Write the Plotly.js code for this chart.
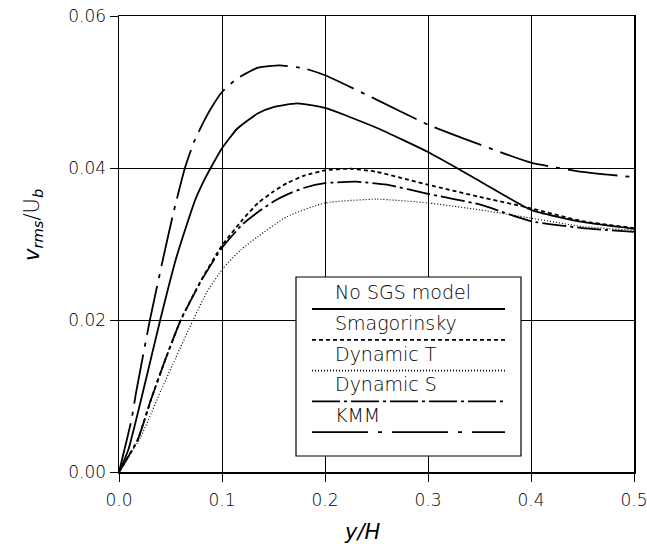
<!DOCTYPE html>
<html>
<head>
<meta charset="utf-8">
<script src="https://cdn.plot.ly/plotly-3.0.1.min.js"></script>
<style>html,body{margin:0;padding:0;background:#fff;}#chart{width:647px;height:546px;}</style>
</head>
<body>
<div id="chart"></div>
<script>
// ---- data ----
const seriesNames = ["No SGS model", "Smagorinsky", "Dynamic T", "Dynamic S", "KMM"];

const noSgsX = [0, 0.009, 0.023, 0.04, 0.055, 0.065, 0.074, 0.082, 0.089, 0.1, 0.115, 0.135, 0.15, 0.173, 0.2, 0.25, 0.3, 0.35, 0.4, 0.45, 0.5];
const noSgsY = [0, 0.0029, 0.0104, 0.02, 0.0279, 0.0322, 0.0358, 0.0382, 0.0400, 0.0426, 0.0452, 0.0472, 0.0480, 0.0485, 0.0479, 0.0453, 0.0421, 0.0383, 0.0345, 0.0329, 0.0320];

const smagX = [0, 0.018, 0.031, 0.045, 0.060, 0.08, 0.1, 0.12, 0.135, 0.15, 0.163, 0.18, 0.2, 0.225, 0.25, 0.3, 0.35, 0.4, 0.45, 0.5];
const smagY = [0, 0.0042, 0.0095, 0.0148, 0.02, 0.0253, 0.0298, 0.0332, 0.0354, 0.0369, 0.0380, 0.0390, 0.0397, 0.0399, 0.0395, 0.0378, 0.0362, 0.0347, 0.0330, 0.0321];

const dynTX = [0, 0.021, 0.041, 0.055, 0.072, 0.085, 0.101, 0.118, 0.135, 0.163, 0.2, 0.25, 0.3, 0.35, 0.4, 0.45, 0.5];
const dynTY = [0, 0.0046, 0.0108, 0.0150, 0.02, 0.0236, 0.0268, 0.0292, 0.0310, 0.0336, 0.0354, 0.0359, 0.0354, 0.0345, 0.0334, 0.0323, 0.0318];

const dynSX = [0, 0.018, 0.031, 0.045, 0.060, 0.08, 0.1, 0.12, 0.135, 0.15, 0.163, 0.18, 0.2, 0.23, 0.26, 0.3, 0.35, 0.4, 0.45, 0.5];
const dynSY = [0, 0.0042, 0.0095, 0.0148, 0.02, 0.0252, 0.0295, 0.0326, 0.0342, 0.0356, 0.0365, 0.0374, 0.0380, 0.0382, 0.0378, 0.0366, 0.0352, 0.0330, 0.0321, 0.0316];

const kmmX = [0, 0.012, 0.0165, 0.03, 0.043, 0.053, 0.064, 0.073, 0.083, 0.09, 0.1, 0.115, 0.135, 0.156, 0.18, 0.2, 0.25, 0.3, 0.35, 0.4, 0.45, 0.5];
const kmmY = [0, 0.0068, 0.0104, 0.02, 0.0282, 0.0342, 0.0400, 0.0435, 0.0463, 0.0480, 0.0500, 0.0518, 0.0532, 0.0535, 0.0531, 0.0522, 0.0490, 0.0457, 0.0431, 0.0407, 0.0395, 0.0388];

const xTicks = [0, 0.1, 0.2, 0.3, 0.4, 0.5];
const yTicks = [0, 0.02, 0.04, 0.06];

// ---- styles ----
const dashes = ["solid", "4px,3px", "1px,2px", "24px,4px,3px,4px", "50px,8px,4px,8px"];
const widths = [1.8, 1.8, 1.2, 1.8, 1.8];
const legendDashes = ["solid", "4px,3px", "1px,2px", "28px,4px,3px,4px", "56px,10px,4px,10px"];

const FONT = "DejaVu Sans, Liberation Sans, Arial, sans-serif";
const WEIGHT = 200;
const xs = [noSgsX, smagX, dynTX, dynSX, kmmX];
const ys = [noSgsY, smagY, dynTY, dynSY, kmmY];

const traces = seriesNames.map((n, i) => ({
  x: xs[i], y: ys[i], name: n, type: "scatter", mode: "lines",
  line: {color: "#000", width: widths[i], dash: dashes[i], shape: "spline", smoothing: 0.5},
  hoverinfo: "skip"
}));

// custom legend (box, sample lines, labels) in paper coords
const W = 647, H = 546, L = 119, R = 13, T = 16, B = 74;
const pw = W - L - R, ph = H - T - B;
const px = v => (v - L) / pw;
const py = v => (H - B - v) / ph;

const shapes = [{
  type: "rect", xref: "paper", yref: "paper",
  x0: px(296), x1: px(521), y0: py(456), y1: py(277),
  fillcolor: "#fff", line: {color: "#000", width: 1.2}, layer: "above"
}];
const annotations = [];
seriesNames.forEach((n, i) => {
  const ly = 309 + i * 30.8;
  shapes.push({type: "line", xref: "paper", yref: "paper",
    x0: px(312), x1: px(505), y0: py(ly), y1: py(ly),
    line: {color: "#000", width: 1.8, dash: legendDashes[i]}, layer: "above"});
  annotations.push({xref: "paper", yref: "paper", x: px(333), y: py(ly - 4),
    xanchor: "left", yanchor: "bottom", showarrow: false, text: n,
    font: {family: FONT, size: 19, color: "#000", weight: WEIGHT}});
});
annotations.push({xref: "paper", yref: "paper", x: px(33), y: py(225), textangle: -90,
  xanchor: "center", yanchor: "middle", showarrow: false,
  text: "<i>v</i><sub><i>rms</i></sub>/U<sub><i>b</i></sub>",
  font: {family: FONT, size: 21, color: "#000", weight: WEIGHT}});
annotations.push({xref: "paper", yref: "paper", x: px(362), y: py(532),
  xanchor: "center", yanchor: "middle", showarrow: false,
  text: "<i>y/H</i>", font: {family: FONT, size: 21, color: "#000", weight: WEIGHT}});

const axisCommon = {
  showgrid: true, gridcolor: "#000", gridwidth: 1,
  zeroline: false, showline: true, linecolor: "#000", linewidth: 1.5, mirror: true,
  ticks: "outside", ticklen: 8, tickcolor: "#000", tickwidth: 1,
  tickfont: {family: FONT, size: 17, color: "#000", weight: WEIGHT}, fixedrange: true,
  ticklabeloverflow: "allow"
};

const layout = {
  width: W, height: H,
  margin: {l: L, r: R, t: T, b: B, pad: 0},
  paper_bgcolor: "#fff", plot_bgcolor: "#fff",
  showlegend: false,
  xaxis: Object.assign({}, axisCommon, {range: [0, 0.5], tickvals: xTicks, tickformat: ".1f", ticklabelstandoff: 4}),
  yaxis: Object.assign({}, axisCommon, {range: [0, 0.06], tickvals: yTicks, tickformat: ".2f"}),
  shapes: shapes, annotations: annotations
};

Plotly.newPlot("chart", traces, layout, {displayModeBar: false, staticPlot: true});
</script>
</body>
</html>
